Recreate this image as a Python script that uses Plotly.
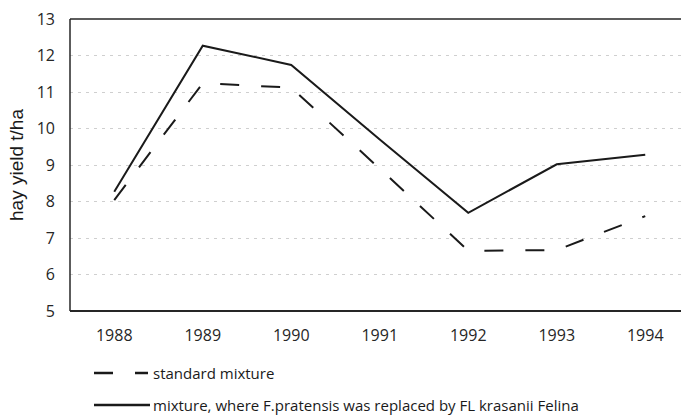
import plotly.graph_objects as go

years = ["1988", "1989", "1990", "1991", "1992", "1993", "1994"]
standard_mixture = [8.04, 11.24, 11.12, 8.9, 6.65, 6.67, 7.6]
felina_mixture = [8.27, 12.27, 11.74, 9.7, 7.69, 9.02, 9.28]
y_ticks = [5, 6, 7, 8, 9, 10, 11, 12, 13]
series_names = ["standard mixture",
                "mixture, where F.pratensis was replaced by FL krasanii Felina"]

LINE_COLOR = "#1a1a1a"
DASH = "19px,22px"

fig = go.Figure()
fig.add_trace(go.Scatter(
    x=years, y=standard_mixture, mode="lines", name=series_names[0],
    line=dict(color=LINE_COLOR, width=2, dash=DASH),
))
fig.add_trace(go.Scatter(
    x=years, y=felina_mixture, mode="lines", name=series_names[1],
    line=dict(color=LINE_COLOR, width=2),
))

# hand-drawn legend below the plot (paper coordinates)
PLOT_L, PLOT_W, PLOT_B, PLOT_H = 70, 611, 311, 292
def px_x(px):
    return (px - PLOT_L) / PLOT_W
def px_y(py):
    return (PLOT_B - py) / PLOT_H

legend_rows = [373, 405]
shapes = [
    dict(type="line", xref="paper", yref="paper", x0=0, x1=1, y0=1, y1=1,
         line=dict(color="#262626", width=1.5)),
    dict(type="line", xref="paper", yref="paper", x0=0, x1=1, y0=0, y1=0,
         line=dict(color="#262626", width=2)),
    dict(type="line", xref="paper", yref="paper", x0=0, x1=0, y0=0, y1=1,
         line=dict(color="#262626", width=1.5)),
    dict(type="line", xref="paper", yref="paper",
         x0=px_x(94), x1=px_x(148), y0=px_y(legend_rows[0]), y1=px_y(legend_rows[0]),
         line=dict(color=LINE_COLOR, width=2.5, dash=DASH)),
    dict(type="line", xref="paper", yref="paper",
         x0=px_x(94), x1=px_x(150), y0=px_y(legend_rows[1]), y1=px_y(legend_rows[1]),
         line=dict(color=LINE_COLOR, width=2.5)),
]
annotations = [
    dict(xref="paper", yref="paper", x=px_x(151), y=px_y(row), text=name,
         showarrow=False, xanchor="left", yanchor="middle",
         font=dict(family="Open Sans, Noto Sans, sans-serif", size=15, color="#1a1a1a"))
    for name, row in zip(series_names, legend_rows)
]

fig.update_layout(
    width=681, height=415,
    margin=dict(l=PLOT_L, r=0, t=19, b=104),
    paper_bgcolor="white", plot_bgcolor="white",
    font=dict(family="Open Sans, Noto Sans, sans-serif", size=15, color="#262626"),
    showlegend=False,
    xaxis=dict(
        type="category", range=[-0.5, 6.404], automargin=False,
        showgrid=False, zeroline=False,
        showline=False, ticks="", ticklabelstandoff=13,
        tickfont=dict(size=16, color="#262626"),
    ),
    yaxis=dict(
        range=[5, 13], tickvals=y_ticks, automargin=False,
        showgrid=True, gridcolor="#cfcfcf", griddash="3px,5px", gridwidth=1,
        zeroline=False, showline=False, ticks="", ticklabelstandoff=14,
        tickfont=dict(size=16, color="#262626"),
        title=dict(text="hay yield t/ha",
                   font=dict(family="Liberation Sans, Arial", size=19, color="#1a1a1a"),
                   standoff=8),
    ),
    shapes=shapes,
    annotations=annotations,
)

fig.write_html(
    "out.html",
    config={"displayModeBar": False},
    post_script="document.body.style.margin='0';document.body.style.overflow='hidden';",
)
